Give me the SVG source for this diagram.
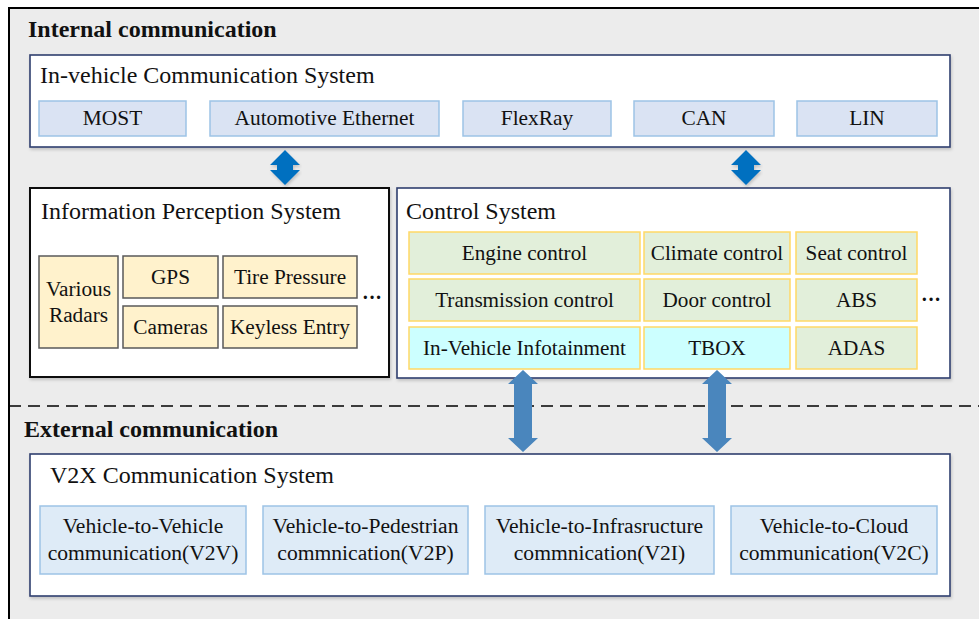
<svg xmlns="http://www.w3.org/2000/svg" width="979" height="619" viewBox="0 0 979 619">
<defs>
<filter id="sh" x="-5%" y="-5%" width="110%" height="115%">
<feDropShadow dx="1" dy="2" stdDeviation="1.5" flood-color="#000" flood-opacity="0.18"/>
</filter>
</defs>
<style>
text{font-family:"Liberation Serif","Times New Roman",serif;fill:#111;}
.h{font-size:24px;font-weight:bold;}
.t{font-size:24px;}
.c{font-size:21.2px;text-anchor:middle;}
.p{font-size:21.4px;text-anchor:middle;}
.s{font-size:21.3px;text-anchor:middle;}
.x{font-size:21.6px;text-anchor:middle;}
.sys{fill:#fff;stroke:#2f3f6f;stroke-width:1.6;}
.proto{fill:#dae3f3;stroke:#9dc3e6;stroke-width:1.5;}
.sens{fill:#fff2cc;stroke:#595959;stroke-width:1.5;}
.ctl{fill:#e2efda;stroke:#ffd966;stroke-width:1.5;}
.cyan{fill:#ccffff;stroke:#ffd966;stroke-width:1.5;}
.v2x{fill:#deebf7;stroke:#9dc3e6;stroke-width:1.5;}
.dots{font-size:20px;font-weight:bold;}
</style>
<rect x="9" y="8" width="975" height="620" fill="#ececec" stroke="#000" stroke-width="2"/>
<line x1="9" y1="406" x2="979" y2="406" stroke="#000" stroke-width="1.6" stroke-dasharray="12 7"/>
<text class="h" x="28" y="37">Internal communication</text>
<text class="h" x="24" y="437">External communication</text>

<g id="in-vehicle">
<rect class="sys" x="30" y="55" width="920" height="92" filter="url(#sh)"/>
<text class="t" x="40" y="83">In-vehicle Communication System</text>
</g>
<g id="most"><rect class="proto" x="39" y="101" width="147" height="35"/><text class="p" x="112.5" y="125">MOST</text></g>
<g id="ethernet"><rect class="proto" x="210" y="101" width="229" height="35"/><text class="p" x="324.5" y="125">Automotive Ethernet</text></g>
<g id="flexray"><rect class="proto" x="463" y="101" width="148" height="35"/><text class="p" x="537" y="125">FlexRay</text></g>
<g id="can"><rect class="proto" x="634" y="101" width="140" height="35"/><text class="p" x="704" y="125">CAN</text></g>
<g id="lin"><rect class="proto" x="797" y="101" width="140" height="35"/><text class="p" x="867" y="125">LIN</text></g>

<g id="perception">
<rect x="30" y="188" width="359" height="189" fill="#fff" stroke="#111" stroke-width="2" filter="url(#sh)"/>
<text class="t" x="41" y="219">Information Perception System</text>
</g>
<g id="radars"><rect class="sens" x="39" y="256" width="79" height="92"/><text class="s" x="78.5" y="296" font-size="22">Various</text><text class="s" x="78.5" y="322" font-size="22">Radars</text></g>
<g id="gps"><rect class="sens" x="123" y="256" width="95" height="42"/><text class="s" x="170.5" y="284">GPS</text></g>
<g id="tire"><rect class="sens" x="223" y="256" width="134" height="42"/><text class="s" x="290" y="284">Tire Pressure</text></g>
<g id="cameras"><rect class="sens" x="123" y="306" width="95" height="42"/><text class="s" x="170.5" y="334">Cameras</text></g>
<g id="keyless"><rect class="sens" x="223" y="306" width="134" height="42"/><text class="s" x="290" y="334">Keyless Entry</text></g>
<text class="dots" x="362" y="304">···</text>

<g id="control">
<rect class="sys" x="397" y="188" width="553" height="190" filter="url(#sh)"/>
<text class="t" x="406" y="219">Control System</text>
</g>
<g id="engine"><rect class="ctl" x="409" y="232" width="231" height="42"/><text class="c" x="524.5" y="260">Engine control</text></g>
<g id="climate"><rect class="ctl" x="644" y="232" width="146" height="42"/><text class="c" x="717" y="260">Climate control</text></g>
<g id="seat"><rect class="ctl" x="796" y="232" width="121" height="42"/><text class="c" x="856.5" y="260">Seat control</text></g>
<g id="transmission"><rect class="ctl" x="409" y="279" width="231" height="42"/><text class="c" x="524.5" y="307">Transmission control</text></g>
<g id="door"><rect class="ctl" x="644" y="279" width="146" height="42"/><text class="c" x="717" y="307">Door control</text></g>
<g id="abs"><rect class="ctl" x="796" y="279" width="121" height="42"/><text class="c" x="856.5" y="307">ABS</text></g>
<g id="ivi"><rect class="cyan" x="409" y="327" width="231" height="42"/><text class="c" x="524.5" y="355">In-Vehicle Infotainment</text></g>
<g id="tbox"><rect class="cyan" x="644" y="327" width="146" height="42"/><text class="c" x="717" y="355">TBOX</text></g>
<g id="adas"><rect class="ctl" x="796" y="327" width="121" height="42"/><text class="c" x="856.5" y="355">ADAS</text></g>
<text class="dots" x="921" y="306">···</text>

<g id="v2x">
<rect class="sys" x="30" y="454" width="920" height="142" filter="url(#sh)"/>
<text class="t" x="50" y="483">V2X Communication System</text>
</g>
<g id="v2v"><rect class="v2x" x="40" y="506" width="206" height="68"/><text class="x" x="143" y="533">Vehicle-to-Vehicle</text><text class="x" x="143" y="560">communication(V2V)</text></g>
<g id="v2p"><rect class="v2x" x="263" y="506" width="205" height="68"/><text class="x" x="365.5" y="533">Vehicle-to-Pedestrian</text><text class="x" x="365.5" y="560">commnication(V2P)</text></g>
<g id="v2i"><rect class="v2x" x="485" y="506" width="229" height="68"/><text class="x" x="599.5" y="533">Vehicle-to-Infrasructure</text><text class="x" x="599.5" y="560">commnication(V2I)</text></g>
<g id="v2c"><rect class="v2x" x="731" y="506" width="206" height="68"/><text class="x" x="834" y="533">Vehicle-to-Cloud</text><text class="x" x="834" y="560">communication(V2C)</text></g>

<g id="connectors">
<path d="M285,150 L300,165 L293,165 L293,170 L300,170 L285,185 L270,170 L277,170 L277,165 L270,165 Z" fill="#0070c0" filter="url(#sh)"/>
<path d="M746,150 L761,165 L754,165 L754,170 L761,170 L746,185 L731,170 L738,170 L738,165 L731,165 Z" fill="#0070c0" filter="url(#sh)"/>
<path d="M523,370 L538,384 L532,384 L532,438 L538,438 L523,452 L508,438 L514,438 L514,384 L508,384 Z" fill="#4a86bd"/>
<path d="M717,370 L732,384 L726,384 L726,438 L732,438 L717,452 L702,438 L708,438 L708,384 L702,384 Z" fill="#4a86bd"/>
</g>
</svg>
